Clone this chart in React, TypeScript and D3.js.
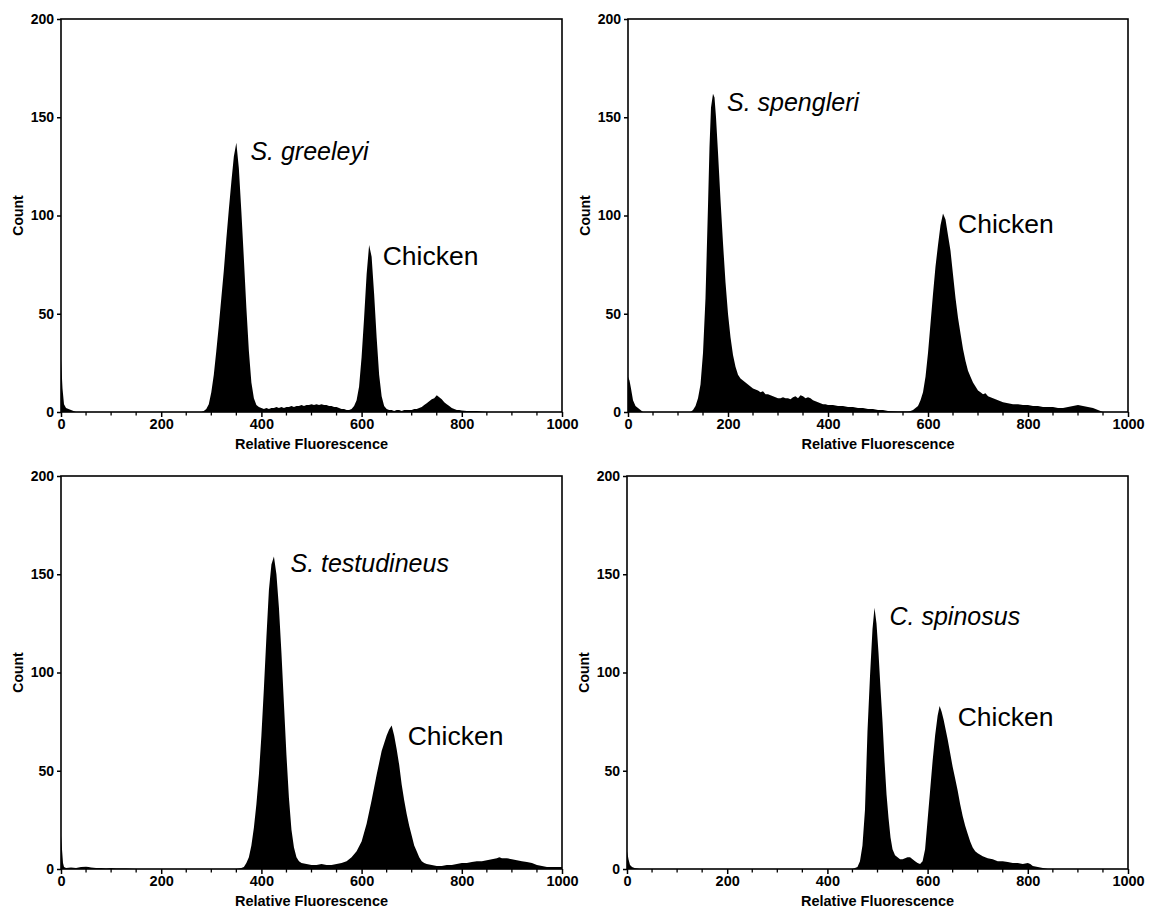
import React, { useEffect, useRef } from 'react';
import * as d3 from 'd3';

// [channel, count]
const greeleyi: [number, number][] = [
  [0, 27], [3, 12], [6, 4], [10, 2], [15, 1.5], [20, 1], [25, 0.5], [30, 0], [280, 0],
  [285, 0.5], [290, 1.5], [295, 4], [300, 10], [305, 19], [310, 31], [315, 44], [320, 58],
  [325, 72], [330, 88], [335, 103], [340, 117], [345, 130], [350, 137], [355, 124], [360, 102],
  [365, 78], [370, 53], [375, 31], [380, 15], [385, 7], [390, 3.5], [395, 2.5], [400, 2],
  [405, 1.5], [410, 2], [415, 1.5], [420, 2], [425, 2], [430, 2.5], [435, 2], [440, 2.5],
  [445, 2], [450, 2.5], [455, 2.5], [460, 3], [465, 2.5], [470, 3], [475, 3], [480, 3.5],
  [485, 3], [490, 3.5], [495, 3.5], [500, 4], [505, 3.5], [510, 4], [515, 3.5], [520, 4],
  [525, 3.5], [530, 3.5], [535, 3], [540, 3], [545, 2.5], [550, 2.5], [555, 2], [560, 1.5],
  [565, 1.5], [570, 1], [575, 1], [580, 1.5], [585, 3], [590, 6], [595, 13], [600, 28],
  [605, 48], [610, 70], [615, 85], [620, 79], [625, 60], [630, 38], [635, 19], [640, 8],
  [645, 3], [650, 1.5], [655, 1], [660, 1], [665, 0.5], [670, 1], [675, 1], [680, 0.5],
  [685, 1], [690, 1], [695, 1], [700, 1], [705, 1.5], [710, 1.5], [715, 2], [720, 2.5],
  [725, 3.5], [730, 4.5], [735, 5.5], [740, 6.5], [745, 7], [750, 8.5], [755, 7.5], [760, 6.5],
  [765, 5], [770, 4], [775, 3], [780, 2], [785, 1.5], [790, 1], [795, 1], [800, 0.8],
  [810, 0.5], [820, 0.5], [830, 0.5], [840, 0.3], [850, 0], [1000, 0],
];

const spengleri: [number, number][] = [
  [0, 18], [3, 16], [6, 12], [10, 6], [15, 3], [20, 2], [25, 1], [30, 0], [125, 0],
  [130, 1], [135, 3], [140, 7], [145, 14], [150, 30], [155, 58], [160, 105], [163, 135],
  [166, 155], [170, 162], [173, 160], [176, 150], [180, 132], [185, 108], [190, 86], [195, 66],
  [200, 50], [205, 38], [210, 29], [215, 23], [220, 19], [225, 17], [230, 16], [235, 15],
  [240, 14], [245, 13], [250, 12], [255, 11.5], [260, 11], [265, 10], [270, 10.5], [275, 9],
  [280, 9], [285, 8.5], [290, 8], [295, 7.5], [300, 7], [305, 7], [310, 7.5], [315, 7],
  [320, 7], [325, 6.5], [330, 7.5], [335, 8], [340, 7], [345, 8.5], [350, 8], [355, 7],
  [360, 7.5], [365, 7], [370, 6], [375, 5.5], [380, 5], [385, 4.5], [390, 4], [395, 4],
  [400, 3.5], [410, 3.5], [420, 3], [430, 3], [440, 2.5], [450, 2.5], [460, 2], [470, 2],
  [480, 1.5], [490, 1.5], [500, 1], [510, 1], [520, 0.5], [540, 0.3], [560, 0.3], [565, 0.5],
  [570, 1], [575, 2], [580, 3], [585, 6], [590, 10], [595, 18], [600, 30], [605, 45],
  [610, 60], [615, 74], [620, 85], [625, 95], [630, 101], [635, 98], [640, 90], [645, 82],
  [650, 70], [655, 58], [660, 48], [665, 40], [670, 32], [675, 26], [680, 21], [685, 18],
  [690, 15], [695, 13], [700, 11], [705, 10], [710, 9], [715, 9.5], [720, 8], [725, 7.5],
  [730, 7], [740, 6], [750, 5], [760, 4.5], [770, 4], [780, 4], [790, 3.5], [800, 3.5],
  [810, 3], [820, 3], [830, 2.5], [840, 2.5], [850, 2.5], [860, 2], [870, 2], [880, 2.5],
  [890, 3], [900, 3.5], [910, 3], [920, 2.5], [930, 2], [940, 1], [950, 0], [1000, 0],
];

const testudineus: [number, number][] = [
  [0, 17], [2, 10], [4, 3], [6, 1], [10, 0.5], [20, 0.8], [30, 0.5], [40, 1], [50, 1.2],
  [55, 1], [60, 0.8], [70, 0.5], [80, 0.5], [90, 0.3], [100, 0.5], [110, 0.3], [120, 0.3],
  [130, 0.2], [150, 0], [350, 0], [360, 0.5], [365, 1], [370, 3], [375, 6], [380, 12],
  [385, 21], [390, 33], [395, 48], [400, 68], [405, 92], [410, 118], [415, 142], [420, 155],
  [425, 159], [430, 150], [435, 133], [440, 110], [445, 84], [450, 58], [455, 36], [460, 20],
  [465, 11], [470, 6], [475, 4], [480, 3], [490, 2.5], [500, 2], [510, 2], [520, 2.5],
  [530, 2], [540, 2], [550, 2.5], [560, 3], [570, 4], [580, 6], [590, 9], [600, 14],
  [610, 23], [620, 35], [630, 48], [635, 54], [640, 60], [645, 64], [650, 68], [655, 71],
  [660, 73], [665, 68], [670, 61], [675, 53], [680, 43], [685, 35], [690, 28], [695, 22],
  [700, 17], [705, 12], [710, 9], [715, 6], [720, 4], [725, 3], [730, 2.5], [740, 2],
  [750, 1.5], [760, 1.5], [770, 2], [780, 2], [790, 2.5], [800, 3], [810, 3], [820, 3.5],
  [830, 4], [840, 4], [850, 4.5], [860, 5], [870, 5.5], [875, 6], [880, 5.5], [890, 5.5],
  [900, 5], [910, 4.5], [920, 4], [930, 3.5], [940, 3], [950, 2], [960, 1.5], [970, 1],
  [980, 1], [990, 1], [1000, 1],
];

const spinosus: [number, number][] = [
  [0, 9], [3, 5], [6, 2], [10, 1], [15, 0.5], [25, 0], [450, 0], [455, 0.5], [460, 1],
  [465, 4], [470, 12], [475, 30], [480, 70], [485, 98], [490, 122], [494, 133], [498, 125],
  [502, 110], [506, 92], [510, 75], [514, 55], [518, 38], [522, 26], [526, 16], [530, 10],
  [535, 7], [540, 6], [545, 5], [550, 5], [555, 5.5], [560, 6], [565, 6], [570, 5], [575, 4],
  [580, 3], [585, 2.5], [590, 4], [595, 10], [600, 25], [605, 40], [610, 55], [615, 68],
  [620, 78], [624, 83], [628, 80], [632, 76], [636, 71], [640, 66], [645, 59], [650, 52],
  [655, 46], [660, 40], [665, 33], [670, 27], [675, 22], [680, 18], [685, 14], [690, 11],
  [695, 9], [700, 8], [710, 6.5], [720, 5.5], [730, 5], [740, 4], [750, 4], [760, 3.5],
  [770, 3], [780, 3], [790, 2.5], [800, 3], [805, 2.5], [810, 1.5], [820, 1], [830, 0.5],
  [840, 0], [1000, 0],
];

const speciesNames = ['S. greeleyi', 'S. spengleri', 'S. testudineus', 'C. spinosus'];
const series = [greeleyi, spengleri, testudineus, spinosus];
// label anchors in data units [channel, count]
const speciesAt: [number, number][] = [[378, 128], [198, 153], [458, 151], [524, 124]];
const chickenAt: [number, number][] = [[642, 75], [660, 91], [692, 63], [660, 73]];

const xMajor = [0, 200, 400, 600, 800, 1000];
const xMinor = d3.range(0, 1001, 50).filter((v) => v % 200 !== 0);
const yTicks = [0, 50, 100, 150, 200];

// panel boxes in px
const boxes = [
  { left: 61, right: 562, top: 19, bottom: 412 },
  { left: 628, right: 1128, top: 19, bottom: 412 },
  { left: 61, right: 562, top: 476, bottom: 869 },
  { left: 627, right: 1128, top: 476, bottom: 869 },
];

const App = () => {
  const ref = useRef<SVGSVGElement>(null);

  useEffect(() => {
    const svg = d3.select(ref.current);
    svg.selectAll('*').remove();
    const font = 'Liberation Sans, Arial, sans-serif';

    boxes.forEach((b, i) => {
      const x = d3.scaleLinear().domain([0, 1000]).range([b.left, b.right]);
      const y = d3.scaleLinear().domain([0, 200]).range([b.bottom, b.top]);
      const g = svg.append('g');

      const area = d3
        .area<[number, number]>()
        .x((d) => x(d[0]))
        .y0(y(0))
        .y1((d) => y(d[1]))
        .curve(d3.curveLinear);

      g.append('path').datum(series[i]).attr('d', area).attr('fill', '#000');

      g.append('rect')
        .attr('x', b.left)
        .attr('y', b.top)
        .attr('width', b.right - b.left)
        .attr('height', b.bottom - b.top)
        .attr('fill', 'none')
        .attr('stroke', '#000')
        .attr('stroke-width', 1.6);

      const yAxis = g
        .append('g')
        .attr('transform', `translate(${b.left},0)`)
        .call(d3.axisLeft(y).tickValues(yTicks).tickSize(4).tickPadding(3).tickFormat(d3.format('d')));
      yAxis.select('.domain').remove();
      yAxis.selectAll('line').attr('stroke-width', 1.5);
      yAxis.selectAll('text').attr('font-family', font).attr('font-size', 14).attr('font-weight', 'bold');

      const xAxis = g
        .append('g')
        .attr('transform', `translate(0,${b.bottom})`)
        .call(d3.axisBottom(x).tickValues(xMajor).tickSize(5).tickPadding(2).tickFormat(d3.format('d')));
      xAxis.select('.domain').remove();
      xAxis.selectAll('line').attr('stroke-width', 1.5);
      xAxis.selectAll('text').attr('font-family', font).attr('font-size', 14.5).attr('font-weight', 'bold');

      g.append('g')
        .selectAll('line')
        .data(xMinor)
        .join('line')
        .attr('x1', (d) => x(d))
        .attr('x2', (d) => x(d))
        .attr('y1', b.bottom)
        .attr('y2', b.bottom + 3.5)
        .attr('stroke', '#000')
        .attr('stroke-width', 1.3);

      g.append('text')
        .attr('x', (b.left + b.right) / 2)
        .attr('y', b.bottom + 37)
        .attr('text-anchor', 'middle')
        .attr('font-family', font)
        .attr('font-size', 14.5)
        .attr('font-weight', 'bold')
        .text('Relative Fluorescence');

      g.append('text')
        .attr('transform', `translate(${b.left - 38},${(b.top + b.bottom) / 2}) rotate(-90)`)
        .attr('text-anchor', 'middle')
        .attr('font-family', font)
        .attr('font-size', 14)
        .attr('font-weight', 'bold')
        .text('Count');

      g.append('text')
        .attr('x', x(speciesAt[i][0]))
        .attr('y', y(speciesAt[i][1]))
        .attr('font-family', font)
        .attr('font-size', 25)
        .attr('font-style', 'italic')
        .text(speciesNames[i]);

      g.append('text')
        .attr('x', x(chickenAt[i][0]))
        .attr('y', y(chickenAt[i][1]))
        .attr('font-family', font)
        .attr('font-size', 26.5)
        .text('Chicken');
    });
  }, []);

  return (
    <svg
      ref={ref}
      width={1149}
      height={908}
      style={{ position: 'absolute', left: 0, top: 0, background: '#fff' }}
    />
  );
};

export default App;
